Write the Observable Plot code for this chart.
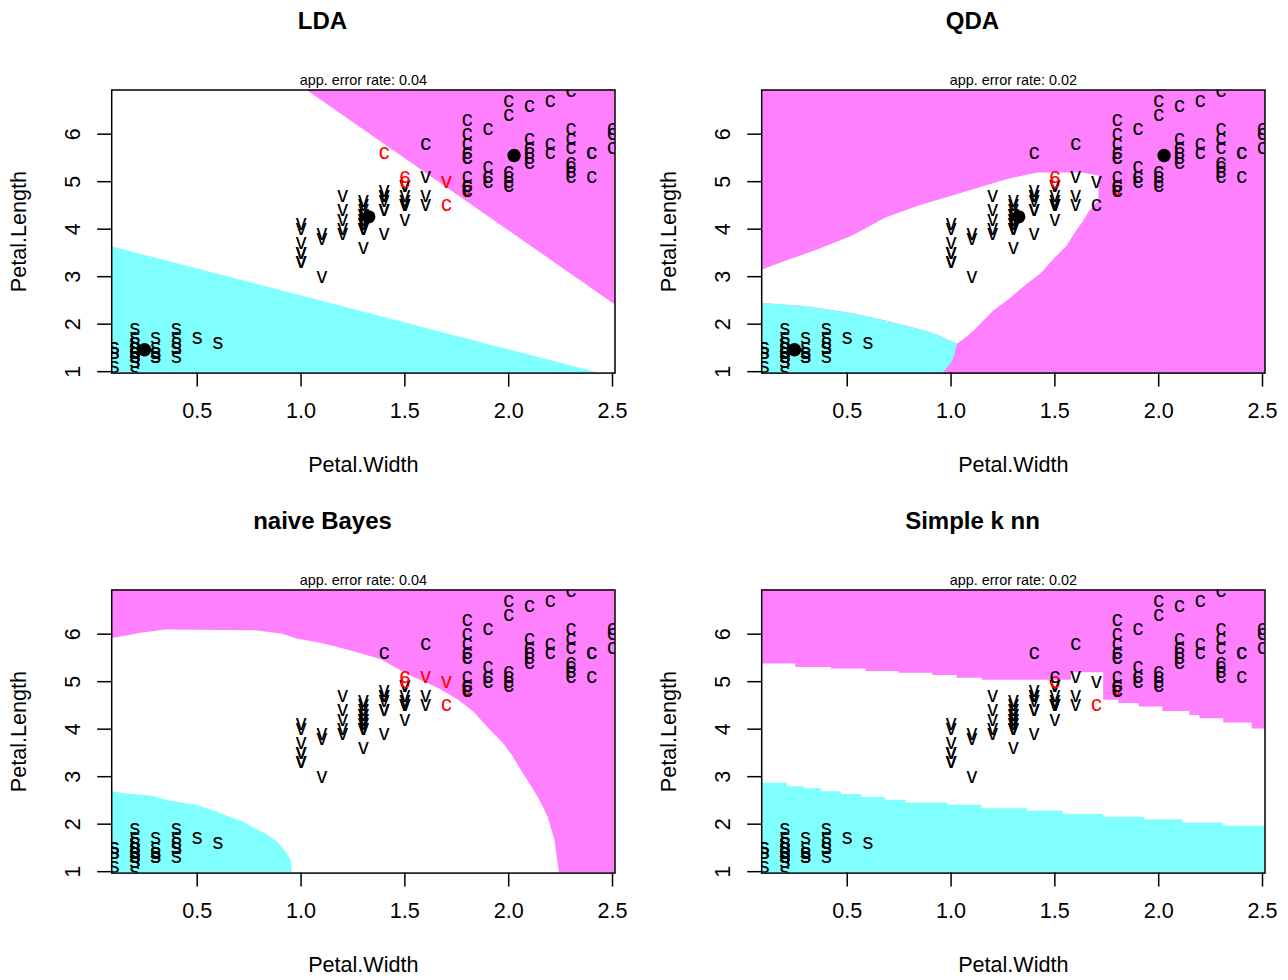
<!DOCTYPE html>
<html><head><meta charset="utf-8">
<script src="https://cdn.jsdelivr.net/npm/d3@7"></script>
<script src="https://cdn.jsdelivr.net/npm/@observablehq/plot@0.6"></script>
<style>
html,body{margin:0;padding:0;background:#fff;overflow:hidden;}
#wrap{position:relative;width:1288px;height:980px;background:#fff;}
.panel{position:absolute;}
</style></head><body><div id="wrap"></div>
<script>
// ---- iris data (Petal.Width, Petal.Length), 50 setosa, 50 versicolor, 50 virginica ----
const petalWidth = [
0.2,0.2,0.2,0.2,0.2,0.4,0.3,0.2,0.2,0.1,0.2,0.2,0.1,0.1,0.2,0.4,0.4,0.3,0.3,0.3,0.2,0.4,0.2,0.5,0.2,0.2,0.4,0.2,0.2,0.2,0.2,0.4,0.1,0.2,0.2,0.2,0.2,0.1,0.2,0.2,0.3,0.3,0.2,0.6,0.4,0.3,0.2,0.2,0.2,0.2,
1.4,1.5,1.5,1.3,1.5,1.3,1.6,1.0,1.3,1.4,1.0,1.5,1.0,1.4,1.3,1.4,1.5,1.0,1.5,1.1,1.8,1.3,1.5,1.2,1.3,1.4,1.4,1.7,1.5,1.0,1.1,1.0,1.2,1.6,1.5,1.6,1.5,1.3,1.3,1.3,1.2,1.4,1.2,1.0,1.3,1.2,1.3,1.3,1.1,1.3,
2.5,1.9,2.1,1.8,2.2,2.1,1.7,1.8,1.8,2.5,2.0,1.9,2.1,2.0,2.4,2.3,1.8,2.2,2.3,1.5,2.3,2.0,2.0,1.8,2.1,1.8,1.8,1.8,2.1,1.6,1.9,2.0,2.2,1.5,1.4,2.3,2.4,1.8,1.8,2.1,2.4,2.3,1.9,2.3,2.5,2.3,1.9,2.0,2.3,1.8];
const petalLength = [
1.4,1.4,1.3,1.5,1.4,1.7,1.4,1.5,1.4,1.5,1.5,1.6,1.4,1.1,1.2,1.5,1.3,1.4,1.7,1.5,1.7,1.5,1.0,1.7,1.9,1.6,1.6,1.5,1.4,1.6,1.6,1.5,1.5,1.4,1.5,1.2,1.3,1.4,1.3,1.5,1.3,1.3,1.3,1.6,1.9,1.4,1.6,1.4,1.5,1.4,
4.7,4.5,4.9,4.0,4.6,4.5,4.7,3.3,4.6,3.9,3.5,4.2,4.0,4.7,3.6,4.4,4.5,4.1,4.5,3.9,4.8,4.0,4.9,4.7,4.3,4.4,4.8,5.0,4.5,3.5,3.8,3.7,3.9,5.1,4.5,4.5,4.7,4.4,4.1,4.0,4.4,4.6,4.0,3.3,4.2,4.2,4.2,4.3,3.0,4.1,
6.0,5.1,5.9,5.6,5.8,6.6,4.5,6.3,5.8,6.1,5.1,5.3,5.5,5.0,5.1,5.3,5.5,6.7,6.9,5.0,5.7,4.9,6.7,4.9,5.7,6.0,4.8,4.9,5.6,5.8,6.1,6.4,5.6,5.1,5.6,6.1,5.6,5.5,4.8,5.4,5.6,5.1,5.1,5.9,5.7,5.2,5.0,5.2,5.4,5.1];
const classLetters = ["s", "v", "c"];
const classSize = 50;

// class means (drawn for LDA and QDA)
const meanWidth = [0.246, 1.326, 2.026];
const meanLength = [1.462, 4.260, 5.552];

// misclassified observations (1-based) per method
const misLDA = [71, 78, 107, 120, 134, 135];
const misQDA = [71, 120, 134];
const misNB = [71, 78, 84, 107, 120, 134];
const misKNN = [71, 107, 120];

const titles = ["LDA", "QDA", "naive Bayes", "Simple k nn"];
const errorRates = ["0.04", "0.02", "0.04", "0.02"];

const xLimits = [0.088, 2.512];
const yLimits = [0.97, 6.93];
const xTicks = [0.5, 1.0, 1.5, 2.0, 2.5];
const yTicks = [1, 2, 3, 4, 5, 6];

// ---- decision regions ----
// LDA
const ldaSetosaX = [0.088, 2.435];
const ldaSetosaY = [3.63, 0.97];
const ldaVirginicaX = [1.026, 2.512];
const ldaVirginicaY = [6.93, 2.41];
// QDA (virginica = background)
const qdaVersicolorX = [0.088,0.195,0.358,0.521,0.684,0.847,1.010,1.173,1.270,1.417,1.629,1.710,1.710,1.661,1.637,1.596,1.555,1.498,1.433,1.368,1.319,1.270,1.205,1.156,1.107,1.059,1.029,0.912,0.798,0.684,0.521,0.293,0.088];
const qdaVersicolorY = [3.147,3.325,3.575,3.86,4.245,4.502,4.716,4.93,5.058,5.194,5.194,5.13,4.609,4.36,4.181,3.932,3.646,3.397,3.076,2.862,2.683,2.505,2.291,2.077,1.863,1.685,1.592,1.813,1.949,2.077,2.234,2.384,2.448];
const qdaSetosaX = [0.088,0.088,0.293,0.521,0.684,0.798,0.912,1.029,1.006,0.958];
const qdaSetosaY = [0.97,2.448,2.384,2.234,2.077,1.949,1.813,1.592,1.22,0.97];
// naive Bayes
const nbSetosaX = [0.088,0.160,0.280,0.350,0.423,0.497,0.546,0.594,0.635,0.692,0.741,0.790,0.839,0.879,0.912,0.936,0.953,0.958];
const nbSetosaY = [2.683,2.633,2.591,2.505,2.448,2.398,2.327,2.255,2.184,2.091,2.006,1.877,1.770,1.649,1.506,1.364,1.22,0.97];
const nbVirginicaX = [0.088,0.160,0.231,0.350,0.782,0.912,0.985,1.107,1.246,1.384,1.515,1.661,1.759,1.832,1.906,1.971,2.020,2.068,2.101,2.150,2.190,2.223,2.244,2.512];
const nbVirginicaY = [5.907,5.964,6.021,6.086,6.071,6.0,5.893,5.80,5.643,5.465,5.144,4.859,4.609,4.36,4.003,3.718,3.432,3.076,2.862,2.505,2.148,1.649,0.97,0.97];
// simple k nn (step boundaries)
const knnSetosaX = [0.088,0.212,0.293,0.375,0.472,0.570,0.684,0.782,0.985,1.148,1.368,1.539,1.735,1.930,2.117,2.313,2.512];
const knnSetosaY = [2.862,2.790,2.748,2.683,2.626,2.562,2.505,2.448,2.398,2.327,2.270,2.205,2.148,2.091,2.027,1.956,1.956];
const knnVirginicaX = [0.088,0.252,0.423,0.591,0.749,0.912,1.029,1.150,1.58,1.735,1.808,1.906,2.020,2.150,2.199,2.313,2.45,2.512];
const knnVirginicaY = [5.372,5.301,5.265,5.215,5.18,5.13,5.073,5.03,5.19,4.609,4.538,4.467,4.374,4.288,4.217,4.131,4.003,4.003];

const CYAN = "#80FFFF", MAGENTA = "#FF80FF";
const FONT = "'Liberation Sans', Arial, Helvetica, sans-serif";

function areaMarks(X, Y, lower, fill, curve) {
  const idx = d3.range(X.length);
  if (lower) {
    return Plot.areaY(idx, {x: i => X[i], y1: yLimits[0], y2: i => Y[i], fill, curve: curve || "linear"});
  }
  return Plot.areaY(idx, {x: i => X[i], y1: i => Y[i], y2: yLimits[1], fill, curve: curve || "linear"});
}
function polygon(X, Y, fill) {
  return Plot.line(d3.range(X.length), {x: i => X[i], y: i => Y[i], fill, stroke: "none"});
}

function regionMarks(k) {
  if (k === 0) return [areaMarks(ldaSetosaX, ldaSetosaY, true, CYAN), areaMarks(ldaVirginicaX, ldaVirginicaY, false, MAGENTA)];
  if (k === 1) return [Plot.frame({fill: MAGENTA}), polygon(qdaVersicolorX, qdaVersicolorY, "white"), polygon(qdaSetosaX, qdaSetosaY, CYAN)];
  if (k === 2) return [areaMarks(nbSetosaX, nbSetosaY, true, CYAN), areaMarks(nbVirginicaX, nbVirginicaY, false, MAGENTA)];
  return [areaMarks(knnSetosaX, knnSetosaY, true, CYAN, "step-after"), areaMarks(knnVirginicaX, knnVirginicaY, false, MAGENTA, "step-after")];
}

const misLists = [misLDA, misQDA, misNB, misKNN];
const ML = 111.2, MT = 89.5, W = 638, H = 490, MR = 23.5, MB = 117.4;

function makePanel(k) {
  const mis = misLists[k];
  const idx = d3.range(petalWidth.length);
  const marks = [
    ...regionMarks(k),
    Plot.text(idx, {
      x: i => petalWidth[i], y: i => petalLength[i],
      text: i => classLetters[Math.floor(i / classSize)],
      fill: i => mis.includes(i + 1) ? "#FF0000" : "#000000",
      fontSize: 21.6, dy: -1, clip: true
    })
  ];
  if (k < 2) {
    marks.push(Plot.dot(d3.range(3), {x: i => meanWidth[i], y: i => meanLength[i], r: 6.7, fill: "black", stroke: "none"}));
  }
  marks.push(
    Plot.frame({stroke: "black", strokeWidth: 1.5}),
    Plot.axisX({ticks: xTicks, tickSize: 14, tickPadding: 15.4, tickFormat: d => d.toFixed(1), fontSize: 21.6, strokeWidth: 1.5, label: null, anchor: "bottom"}),
    Plot.axisY({ticks: yTicks, tickSize: 14, tickFormat: () => "", strokeWidth: 1.5, label: null, anchor: "left"}),
    Plot.text(yTicks, {y: d => d, text: d => String(d), frameAnchor: "left", dx: -32, rotate: -90, lineAnchor: "bottom", textAnchor: "middle", fontSize: 21.6}),
    Plot.text([titles[k]], {text: d => d, frameAnchor: "top-left", dx: 322 - ML, dy: -(MT - 28.7), lineAnchor: "bottom", textAnchor: "middle", fontSize: 24, fontWeight: "bold"}),
    Plot.text(["app. error rate: " + errorRates[k]], {text: d => d, frameAnchor: "top", dy: -(MT - 84.7), lineAnchor: "bottom", fontSize: 14.4}),
    Plot.text(["Petal.Width"], {text: d => d, frameAnchor: "bottom", dy: 99.1, lineAnchor: "bottom", fontSize: 21.6}),
    Plot.text(["Petal.Length"], {text: d => d, frameAnchor: "left", dx: -(ML - 25), rotate: -90, lineAnchor: "bottom", textAnchor: "middle", fontSize: 21.6})
  );
  return Plot.plot({
    width: W, height: H,
    marginLeft: ML, marginRight: MR, marginTop: MT, marginBottom: MB,
    x: {domain: xLimits},
    y: {domain: yLimits},
    color: {type: "identity"},
    style: {fontFamily: FONT, fontSize: "21.6px", background: "transparent", color: "black", overflow: "visible"},
    marks
  });
}

const offsets = [[0, 0], [650, 0], [0, 500], [650, 500]];
const wrap = document.getElementById("wrap");
offsets.forEach(([left, top], k) => {
  const div = document.createElement("div");
  div.className = "panel";
  div.style.left = left + "px";
  div.style.top = top + "px";
  div.appendChild(makePanel(k));
  wrap.appendChild(div);
});
</script></body></html>
